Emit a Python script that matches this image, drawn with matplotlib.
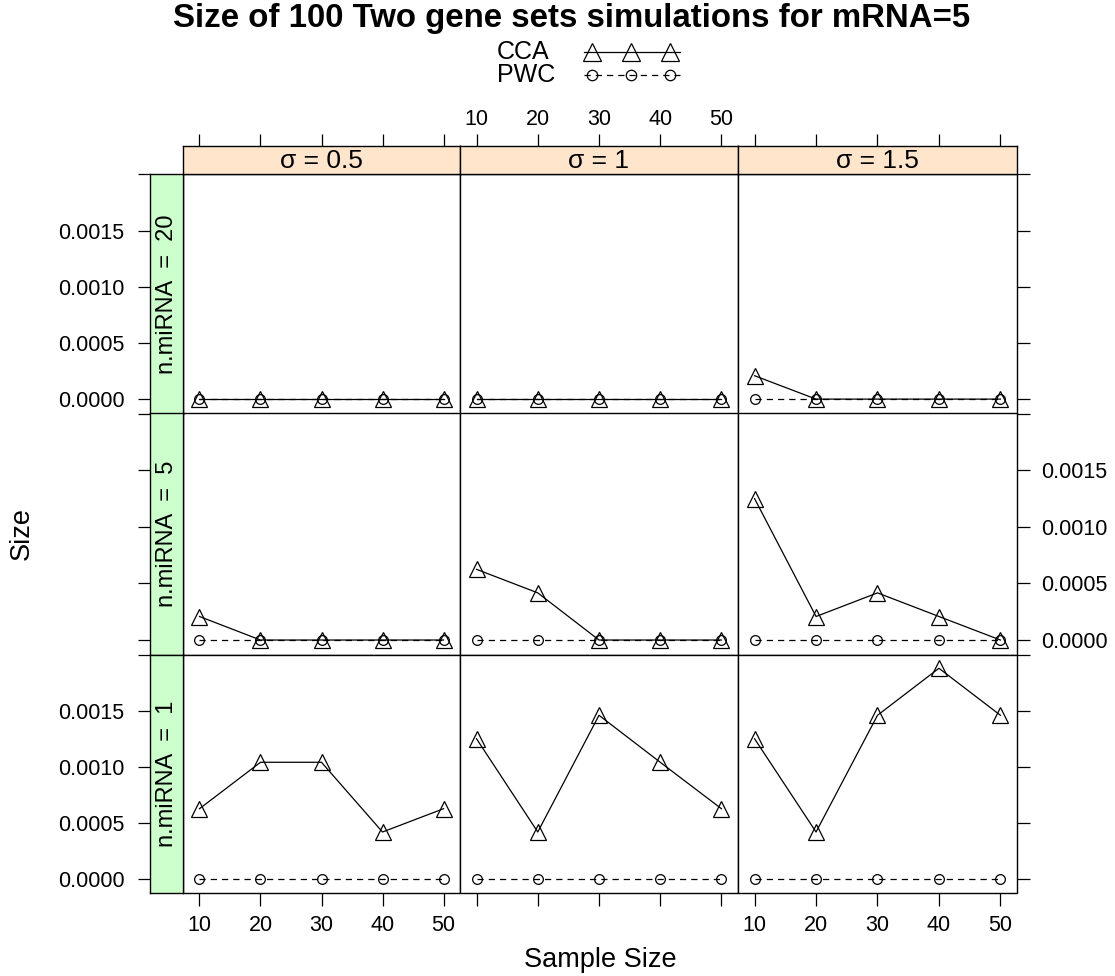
import numpy as np
import matplotlib.pyplot as plt
from matplotlib.lines import Line2D
from matplotlib.patches import Rectangle

plt.rcParams['font.family'] = ['Liberation Sans', 'DejaVu Sans']

sample_sizes = [10, 20, 30, 40, 50]
sigma_levels = ['0.5', '1', '1.5']
mirna_levels = [20, 5, 1]  # panel rows, top to bottom

# estimated size per sigma (columns), for each n.miRNA
cca_mirna20 = [
    [0, 0, 0, 0, 0],
    [0, 0, 0, 0, 0],
    [0.000208, 0, 0, 0, 0],
]
cca_mirna5 = [
    [0.000208, 0, 0, 0, 0],
    [0.000625, 0.000417, 0, 0, 0],
    [0.00125, 0.000208, 0.000417, 0.000208, 0],
]
cca_mirna1 = [
    [0.000625, 0.00104, 0.00104, 0.000417, 0.000625],
    [0.00125, 0.000417, 0.00146, 0.00104, 0.000625],
    [0.00125, 0.000417, 0.00146, 0.00188, 0.00146],
]
pwc_mirna20 = [
    [0, 0, 0, 0, 0],
    [0, 0, 0, 0, 0],
    [0, 0, 0, 0, 0],
]
pwc_mirna5 = [
    [0, 0, 0, 0, 0],
    [0, 0, 0, 0, 0],
    [0, 0, 0, 0, 0],
]
pwc_mirna1 = [
    [0, 0, 0, 0, 0],
    [0, 0, 0, 0, 0],
    [0, 0, 0, 0, 0],
]

y_ticks = [0, 0.0005, 0.0010, 0.0015, 0.0020]
y_tick_labels = ['0.0000', '0.0005', '0.0010', '0.0015', '']

cca_rows = [cca_mirna20, cca_mirna5, cca_mirna1]
pwc_rows = [pwc_mirna20, pwc_mirna5, pwc_mirna1]

W, H = 1115, 976
PX = 72 / 100  # points per pixel at 100 dpi
fig = plt.figure(figsize=(W / 100, H / 100), dpi=100)


def box(x0, y0, x1, y1):
    return [x0 / W, 1 - y1 / H, (x1 - x0) / W, (y1 - y0) / H]


col_x = [183, 460, 738, 1017]
row_y = [174, 413.5, 654.5, 893]
dash = (0, (5, 4))

for r in range(3):
    for c in range(3):
        ax = fig.add_axes(box(col_x[c], row_y[r], col_x[c + 1], row_y[r + 1]))
        ax.plot(sample_sizes, pwc_rows[r][c], ls=dash, color='black', lw=0.9,
                marker='o', ms=7, mfc='none', mew=0.9, clip_on=False)
        ax.plot(sample_sizes, cca_rows[r][c], ls='-', color='black', lw=0.9,
                marker='^', ms=11, mfc='none', mew=0.9, clip_on=False)
        ax.set_xlim(7.3, 52.7)
        ax.set_ylim(-0.000128, 0.002003)
        for s in ax.spines.values():
            s.set_visible(False)
        ax.add_patch(Rectangle((0, 0), 1, 1, transform=ax.transAxes, fill=False,
                               lw=1.0, ec='black', clip_on=False, zorder=5))
        ax.set_xticks(sample_sizes)
        ax.set_xticklabels([str(v) for v in sample_sizes])
        ax.set_yticks(y_ticks)
        ax.set_yticklabels(y_tick_labels)
        ax.tick_params(direction='out', length=9, width=0.9, labelsize=15.5,
                       left=c == 0, right=c == 2, top=r == 0, bottom=r == 2,
                       labelleft=(c == 0 and r != 1), labelright=(c == 2 and r == 1),
                       labeltop=(r == 0 and c == 1), labelbottom=(r == 2 and c != 1))
        ax.tick_params(axis='y', pad=8.5 if c == 2 else 9.5)
        ax.tick_params(axis='x', pad=2.8 if r == 0 else 7)
        if c == 0:
            ax.spines['left'].set_position(('outward', 33 * PX))
        if r == 0:
            ax.spines['top'].set_position(('outward', 28 * PX))

# n.miRNA strips down the left side
for r in range(3):
    sax = fig.add_axes(box(150, row_y[r], 183, row_y[r + 1]))
    sax.set_facecolor('#CCFFCC')
    sax.set_xticks([])
    sax.set_yticks([])
    for s in sax.spines.values():
        s.set_linewidth(1.0)
    sax.text(0.52, 0.5, f'n.miRNA  =  {mirna_levels[r]}', rotation=90,
             ha='center', va='center', fontsize=17, transform=sax.transAxes)

# sigma strips across the top
for c in range(3):
    sax = fig.add_axes(box(col_x[c], 146, col_x[c + 1], 174))
    sax.set_facecolor('#FFE5CC')
    sax.set_xticks([])
    sax.set_yticks([])
    for s in sax.spines.values():
        s.set_linewidth(1.0)
    sax.text(0.5, 0.45, f'σ = {sigma_levels[c]}', ha='center', va='center',
             fontsize=19, transform=sax.transAxes)

fig.text(572 / W, 1 - 19 / H, 'Size of 100 Two gene sets simulations for mRNA=5',
         ha='center', va='center', fontsize=23.8, fontweight='bold')
fig.text(600 / W, 1 - 960 / H, 'Sample Size', ha='center', va='center', fontsize=19.5)
fig.text(22 / W, 1 - 533 / H, 'Size', ha='center', va='center', rotation=90,
         fontsize=19.5)

# key
for label, yc, style, mk, ms in [('CCA', 52, '-', '^', 13), ('PWC', 75, dash, 'o', 7.5)]:
    fig.text(497 / W, 1 - yc / H, label, ha='left', va='center', fontsize=18)
    fig.add_artist(Line2D([584 / W, 680 / W], [1 - yc / H, 1 - yc / H], ls=style,
                          color='black', lw=0.9, transform=fig.transFigure))
    fig.add_artist(Line2D([592 / W, 631 / W, 670 / W], [1 - yc / H] * 3, ls='none',
                          marker=mk, ms=ms, mfc='none', mec='black', mew=0.9,
                          transform=fig.transFigure))

fig.savefig('out.png', dpi=100)
